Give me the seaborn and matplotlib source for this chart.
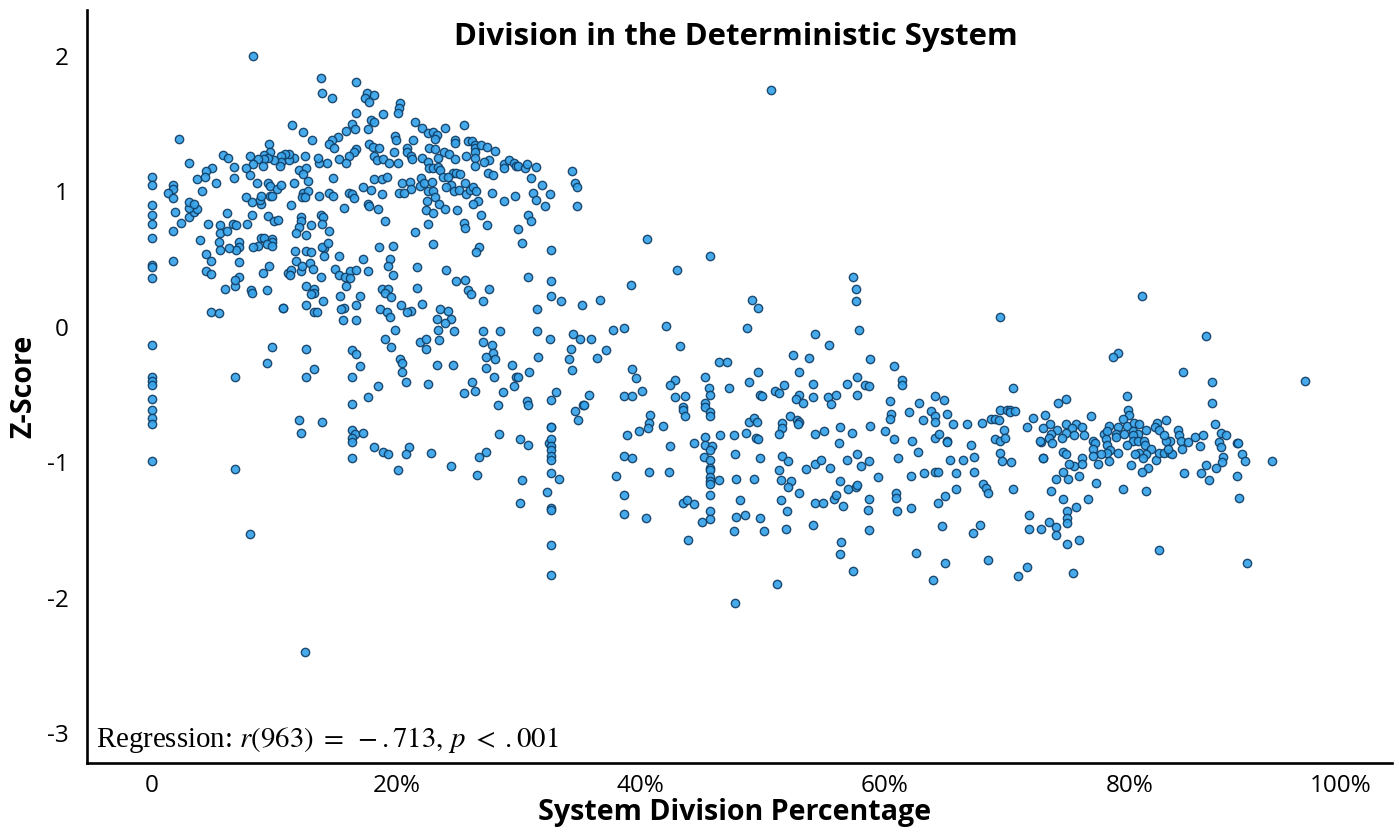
import pandas as pd
import matplotlib
matplotlib.use("Agg")
import matplotlib.pyplot as plt
import seaborn as sns

# (division %, z-score), grouped by region
zero_division = [(0, 1.11), (0, 1.05), (0, 0.90), (0, 0.83), (0, 0.76), (0, 0.66), (0, 0.46), (0, 0.44), (0, 0.36),
    (0, -0.13), (0, -0.37), (0, -0.40), (0, -0.43), (0, -0.53), (0, -0.61), (0, -0.67), (0, -0.72), (0, -0.99)]

upper_left = [(8.3, 2.00), (13.8, 1.84), (16.7, 1.81), (13.9, 1.73), (14.7, 1.69), (16.7, 1.58), (16.4, 1.50), (16.6, 1.46),
    (15.9, 1.45), (11.5, 1.49), (12.4, 1.44), (13.1, 1.38), (15.2, 1.40), (14.7, 1.38), (14.5, 1.35), (14.9, 1.32),
    (2.2, 1.39), (16.7, 1.31), (16.5, 1.29), (16.1, 1.26), (15.3, 1.24), (15.9, 1.21), (14.3, 1.21), (13.7, 1.21),
    (13.6, 1.25), (12.5, 1.26), (11.6, 1.25), (11.2, 1.23), (11.2, 1.28), (10.9, 1.28), (10.6, 1.26), (10.6, 1.22),
    (10.5, 1.19), (10.0, 1.23), (9.6, 1.35), (9.7, 1.29), (9.2, 1.27), (9.5, 1.25), (9.2, 1.24), (8.7, 1.24),
    (8.0, 1.26), (8.3, 1.20), (9.1, 1.19), (5.8, 1.27), (6.2, 1.25), (3.0, 1.21), (6.7, 1.18), (7.7, 1.17),
    (4.9, 1.17), (4.4, 1.15), (3.7, 1.09), (4.3, 1.11), (5.2, 1.06), (6.7, 1.10), (8.0, 1.12), (8.6, 1.06),
    (9.5, 1.06), (9.7, 1.04), (10.2, 1.02), (10.6, 1.05), (11.6, 1.06), (12.8, 1.08), (12.0, 1.16), (12.6, 1.17),
    (12.4, 1.13), (14.8, 1.10), (1.7, 1.05), (1.7, 1.02), (1.3, 0.99), (1.7, 0.95), (1.9, 0.85), (1.7, 0.71),
    (1.7, 0.49), (2.4, 0.77), (3.0, 0.81), (3.4, 0.85), (3.7, 0.87), (3.0, 0.88), (3.0, 0.92), (3.4, 0.91),
    (4.1, 1.00), (7.7, 0.96), (8.2, 0.92), (8.9, 0.91), (8.8, 0.94), (8.9, 0.97), (9.7, 0.97), (9.8, 0.97),
    (11.4, 0.90), (12.4, 0.99), (12.8, 1.00), (12.3, 0.96), (12.5, 0.96), (13.7, 0.97), (14.5, 0.99), (14.8, 0.97),
    (15.7, 0.88), (16.1, 0.99), (16.4, 0.98), (16.5, 0.95), (6.1, 0.84), (8.2, 0.83), (9.5, 0.82), (10.0, 0.78),
    (10.3, 0.79), (12.2, 0.81), (12.2, 0.78), (12.0, 0.74), (11.8, 0.69), (12.6, 0.68), (13.0, 0.75), (13.8, 0.83),
    (14.0, 0.81), (13.9, 0.76), (14.5, 0.71), (7.8, 0.76), (6.6, 0.76), (6.9, 0.75), (4.6, 0.76), (5.6, 0.75),
    (5.6, 0.69), (6.1, 0.71), (3.9, 0.64), (5.5, 0.63), (7.1, 0.63), (8.9, 0.66), (9.2, 0.66), (9.8, 0.65),
    (9.8, 0.63), (9.4, 0.61), (9.8, 0.60), (8.7, 0.60), (8.3, 0.59), (7.1, 0.59), (6.9, 0.57), (6.3, 0.58),
    (5.6, 0.57), (4.4, 0.54), (4.8, 0.49), (7.1, 0.48), (9.6, 0.45), (9.1, 0.40), (11.1, 0.40), (11.4, 0.42),
    (11.3, 0.38), (12.2, 0.41), (11.8, 0.49), (12.3, 0.45), (12.9, 0.47), (13.2, 0.43), (11.7, 0.56), (12.6, 0.56),
    (13.0, 0.55), (14.1, 0.58), (13.9, 0.59), (14.4, 0.62), (14.1, 0.52), (15.3, 0.52), (15.0, 0.43), (15.3, 0.38),
    (16.2, 0.41), (16.7, 0.42), (15.8, 0.37), (16.2, 0.36), (4.4, 0.41), (4.8, 0.39), (7.1, 0.37), (13.8, 0.37)]

upper_mid = [(17.6, 1.73), (18.2, 1.71), (17.4, 1.69), (17.8, 1.66), (18.9, 1.57), (20.3, 1.65), (20.2, 1.62), (20.1, 1.58),
    (21.5, 1.51), (22.1, 1.47), (22.6, 1.43), (23.0, 1.44), (23.3, 1.42), (23.2, 1.39), (24.0, 1.47), (25.5, 1.49),
    (17.9, 1.53), (18.2, 1.51), (17.7, 1.46), (19.9, 1.41), (20.0, 1.38), (21.4, 1.38), (17.8, 1.35), (18.1, 1.33),
    (18.6, 1.32), (19.8, 1.29), (20.9, 1.32), (20.9, 1.29), (21.2, 1.26), (21.3, 1.24), (22.7, 1.32), (23.2, 1.31),
    (23.9, 1.29), (24.3, 1.28), (23.4, 1.25), (24.8, 1.24), (24.8, 1.38), (24.8, 1.36), (25.9, 1.37), (26.2, 1.37),
    (26.4, 1.34), (26.4, 1.32), (26.9, 1.34), (27.4, 1.33), (28.1, 1.30), (25.7, 1.26), (26.4, 1.29), (26.4, 1.25),
    (27.6, 1.23), (27.2, 1.22), (26.4, 1.19), (28.8, 1.20), (29.2, 1.23), (28.8, 1.17), (29.6, 1.21), (29.8, 1.19),
    (30.0, 1.19), (30.5, 1.17), (30.7, 1.20), (31.4, 1.18), (27.5, 1.14), (27.9, 1.12), (31.0, 1.10), (31.9, 1.05),
    (31.2, 0.99), (31.4, 0.94), (32.6, 0.98), (32.2, 0.89), (34.4, 1.15), (34.6, 1.06), (34.8, 1.03), (34.8, 0.89),
    (18.2, 1.26), (18.4, 1.23), (18.9, 1.24), (19.4, 1.21), (20.1, 1.21), (22.1, 1.25), (22.6, 1.22), (22.7, 1.17),
    (23.0, 1.17), (23.4, 1.18), (23.6, 1.16), (24.6, 1.14), (24.9, 1.14), (25.2, 1.13), (23.8, 1.11), (24.2, 1.11),
    (18.2, 1.09), (18.8, 1.09), (19.2, 1.11), (17.3, 1.03), (17.9, 1.01), (18.8, 0.98), (20.5, 1.06), (21.1, 1.07),
    (22.0, 1.10), (21.9, 1.04), (22.3, 1.06), (22.9, 1.07), (21.2, 1.02), (20.2, 0.99), (20.6, 0.99), (22.6, 1.00),
    (23.0, 1.00), (23.2, 0.96), (24.5, 1.05), (24.1, 1.03), (24.7, 1.00), (25.1, 1.01), (25.6, 1.06), (25.7, 0.98),
    (26.0, 1.01), (26.3, 1.03), (26.5, 1.00), (27.8, 0.99), (28.8, 0.93), (29.7, 0.97), (26.7, 0.93), (26.3, 0.91),
    (22.5, 0.93), (23.5, 0.91), (24.0, 0.87), (22.4, 0.86), (23.0, 0.84), (25.0, 0.86), (26.9, 0.83), (30.8, 0.83),
    (31.0, 0.78), (17.7, 0.91), (17.8, 0.89), (18.5, 0.87), (19.1, 0.78), (22.6, 0.76), (21.5, 0.70), (25.5, 0.77),
    (25.6, 0.73), (27.4, 0.75), (30.0, 0.72), (18.6, 0.59), (19.7, 0.60), (23.0, 0.61), (26.8, 0.59), (26.5, 0.55),
    (30.3, 0.62), (32.7, 0.57), (17.3, 0.50), (19.5, 0.50), (19.3, 0.45), (17.7, 0.41), (19.7, 0.38), (21.7, 0.44),
    (24.1, 0.42), (24.9, 0.34), (25.6, 0.35), (30.8, 0.37), (32.7, 0.34), (21.7, 0.29), (25.9, 0.27), (26.1, 0.24),
    (27.6, 0.28), (32.7, 0.23), (18.8, 0.28), (19.3, 0.28), (19.1, 0.25), (19.6, 0.22), (17.0, 0.23)]

lower_left = [(6.0, 0.28), (6.8, 0.30), (6.8, 0.35), (8.1, 0.27), (8.2, 0.25), (9.4, 0.27), (4.8, 0.11), (5.5, 0.10),
    (10.7, 0.14), (10.7, 0.14), (12.6, 0.30), (13.3, 0.28), (13.3, 0.25), (13.0, 0.24), (14.0, 0.19), (12.6, 0.16),
    (13.3, 0.11), (13.5, 0.11), (15.4, 0.23), (15.9, 0.30), (16.7, 0.16), (15.7, 0.14), (15.5, 0.13), (15.6, 0.05),
    (16.7, 0.05), (9.8, -0.15), (12.6, -0.16), (16.4, -0.17), (16.7, -0.20), (9.4, -0.27), (13.3, -0.31), (17.0, -0.29),
    (6.8, -0.37), (12.6, -0.37), (16.4, -0.37), (16.4, -0.57), (12.0, -0.69), (13.9, -0.70), (12.2, -0.78),
    (16.4, -0.76), (16.6, -0.79), (17.3, -0.78), (16.4, -0.82), (16.4, -0.85), (16.4, -0.97), (6.8, -1.05),
    (8.0, -1.53), (12.5, -2.40)]

lower_mid = [(20.4, 0.16), (22.1, 0.17), (21.2, 0.12), (20.9, 0.11), (18.7, 0.13), (19.2, 0.11), (19.5, 0.07), (23.6, 0.13),
    (24.2, 0.12), (24.5, 0.06), (23.3, 0.06), (24.0, 0.03), (23.4, -0.02), (24.7, -0.03), (19.9, -0.02), (19.1, -0.09),
    (19.6, -0.15), (21.9, -0.11), (22.4, -0.09), (22.4, -0.16), (23.5, -0.10), (27.1, 0.19), (31.5, 0.13), (35.2, 0.16),
    (33.5, 0.19), (31.5, -0.03), (27.1, -0.03), (28.5, -0.03), (27.1, -0.11), (27.8, -0.13), (27.9, -0.19), (27.3, -0.22),
    (28.1, -0.24), (27.3, -0.30), (29.5, -0.28), (31.6, -0.22), (32.6, -0.09), (34.5, -0.05), (35.0, -0.09), (35.9, -0.09),
    (34.3, -0.16), (34.1, -0.24), (36.4, -0.23), (34.4, -0.32), (30.9, -0.33), (28.0, -0.37), (29.8, -0.37), (30.0, -0.37),
    (29.6, -0.44), (28.7, -0.48), (26.2, -0.41), (26.4, -0.47), (25.5, -0.49), (23.3, -0.28), (24.6, -0.28), (20.3, -0.24),
    (20.5, -0.27), (20.5, -0.33), (20.8, -0.41), (22.6, -0.42), (18.5, -0.44), (17.7, -0.52), (33.1, -0.48), (32.7, -0.54),
    (35.8, -0.50), (35.3, -0.58), (35.4, -0.58), (34.6, -0.62), (34.9, -0.69), (30.7, -0.55), (30.8, -0.58), (28.3, -0.58),
    (32.7, -0.74), (32.7, -0.74), (28.4, -0.79), (30.1, -0.83), (30.8, -0.87), (32.5, -0.86), (32.7, -0.83), (32.7, -0.88),
    (32.7, -0.91), (32.7, -0.95), (32.7, -0.98), (18.2, -0.89), (18.9, -0.92), (19.3, -0.94), (21.0, -0.89), (20.8, -0.94),
    (22.8, -0.93), (27.3, -0.92), (26.8, -0.96), (20.1, -1.06), (24.5, -1.03), (26.6, -1.09), (30.3, -1.13), (32.7, -1.08),
    (33.3, -1.12), (32.3, -1.22), (30.1, -1.30), (32.7, -1.34), (32.7, -1.35), (32.7, -1.61), (32.7, -1.83), (36.7, 0.20)]

centre = [(37.7, -0.02), (38.6, -0.01), (42.1, 0.01), (48.7, -0.01), (54.3, -0.05), (55.4, -0.13), (43.2, -0.14), (37.2, -0.17),
    (52.5, -0.21), (53.8, -0.23), (46.4, -0.26), (47.1, -0.26), (39.3, -0.31), (39.6, -0.38), (49.6, -0.33), (53.0, -0.33),
    (42.8, -0.39), (42.4, -0.43), (48.9, -0.41), (45.3, -0.37), (54.1, -0.42), (51.7, -0.43), (45.6, -0.45), (47.2, -0.45),
    (40.1, -0.47), (38.6, -0.51), (39.3, -0.51), (42.8, -0.52), (43.6, -0.51), (45.7, -0.50), (49.8, -0.50), (49.9, -0.51),
    (51.0, -0.47), (51.3, -0.49), (53.0, -0.50), (52.7, -0.53), (53.3, -0.56), (54.1, -0.52), (55.3, -0.52), (55.6, -0.57),
    (56.0, -0.50), (45.3, -0.56), (45.3, -0.59), (45.7, -0.63), (45.7, -0.66), (43.5, -0.59), (43.5, -0.61), (43.6, -0.66),
    (40.8, -0.65), (40.7, -0.71), (40.6, -0.75), (39.9, -0.77), (41.8, -0.73), (38.9, -0.80), (42.4, -0.88), (44.4, -0.86),
    (45.3, -0.81), (46.5, -0.80), (47.6, -0.80), (48.6, -0.78), (49.4, -0.82), (49.6, -0.83), (48.9, -0.70), (49.3, -0.67),
    (49.5, -0.70), (51.6, -0.71), (52.2, -0.66), (52.8, -0.69), (53.0, -0.70), (52.9, -0.72), (51.6, -0.75), (51.3, -0.79),
    (54.3, -0.79), (55.0, -0.77), (56.3, -0.74), (56.2, -0.86), (45.3, -0.87), (45.8, -0.88), (45.7, -0.91), (45.2, -0.96),
    (45.7, -0.98), (45.7, -1.04), (45.7, -1.06), (45.7, -1.11), (45.7, -1.14), (45.7, -1.16), (46.4, -1.13), (47.8, -1.12),
    (49.3, -1.12), (47.7, -0.94), (49.8, -0.97), (51.6, -0.95), (52.1, -0.99), (54.3, -1.01), (54.8, -0.98), (55.5, -1.04),
    (53.5, -1.05), (51.3, -1.06), (51.5, -1.13), (52.3, -1.14), (52.1, -1.18), (53.0, -1.23), (56.3, -1.14), (38.6, -0.95),
    (39.3, -0.97), (38.0, -1.10), (40.7, -1.07), (42.3, -1.07), (38.6, -1.24), (38.6, -1.38), (40.4, -1.41), (43.5, -1.30),
    (43.8, -1.28), (44.4, -1.31), (45.7, -1.24), (45.7, -1.36), (45.7, -1.42), (45.0, -1.44), (48.1, -1.28), (47.8, -1.40),
    (48.5, -1.39), (49.8, -1.41), (47.6, -1.51), (50.1, -1.51), (51.5, -1.28), (52.0, -1.36), (51.9, -1.49), (54.1, -1.46),
    (54.3, -1.30), (54.9, -1.30), (55.8, -1.27), (56.0, -1.24), (43.9, -1.57), (56.4, -1.59), (56.3, -1.68), (47.7, -2.04),
    (51.2, -1.90), (50.7, 1.75), (49.1, 0.20), (49.6, 0.14), (40.5, 0.65), (43.0, 0.42), (45.7, 0.52), (39.2, 0.31)]

right_mid = [(58.8, -0.24), (60.7, -0.29), (61.4, -0.39), (61.4, -0.43), (57.7, -0.37), (56.9, -0.42), (58.4, -0.43), (58.7, -0.44),
    (57.7, -0.50), (60.4, -0.55), (62.8, -0.56), (64.1, -0.51), (64.8, -0.54), (70.5, -0.45), (62.0, -0.63), (60.5, -0.64),
    (60.4, -0.68), (63.8, -0.62), (64.1, -0.66), (64.1, -0.70), (63.1, -0.69), (65.1, -0.64), (65.6, -0.72), (66.7, -0.72),
    (67.9, -0.71), (68.7, -0.68), (69.0, -0.68), (69.3, -0.69), (69.4, -0.61), (70.0, -0.61), (70.2, -0.61), (70.2, -0.63),
    (70.6, -0.62), (72.1, -0.67), (73.1, -0.65), (71.6, -0.74), (69.7, -0.76), (69.0, -0.83), (69.4, -0.84), (69.8, -0.82),
    (69.4, -0.93), (69.6, -0.99), (70.3, -1.00), (72.9, -0.97), (70.5, -1.20), (57.3, -0.78), (58.8, -0.73), (60.0, -0.77),
    (60.7, -0.83), (62.2, -0.84), (62.7, -0.92), (64.1, -0.82), (64.4, -0.79), (65.1, -0.84), (65.1, -0.85), (67.0, -0.87),
    (61.1, -0.97), (65.3, -0.98), (66.4, -0.98), (67.3, -0.96), (56.9, -0.98), (57.7, -0.94), (58.0, -1.03), (58.7, -0.99),
    (59.4, -1.11), (62.1, -1.10), (63.2, -1.08), (64.1, -1.07), (64.3, -1.07), (65.8, -1.08), (67.3, -1.07), (57.0, -1.20),
    (57.6, -1.18), (57.7, -1.17), (56.6, -1.32), (58.7, -1.27), (58.6, -1.35), (60.9, -1.23), (60.9, -1.26), (61.0, -1.36),
    (62.1, -1.34), (65.8, -1.20), (64.9, -1.25), (64.3, -1.30), (68.0, -1.16), (68.3, -1.19), (68.4, -1.23), (71.8, -1.39),
    (71.8, -1.49), (72.8, -1.49), (73.4, -1.44), (58.7, -1.50), (64.7, -1.47), (67.8, -1.46), (67.2, -1.52), (62.5, -1.67),
    (64.9, -1.74), (68.4, -1.72), (71.6, -1.77), (70.9, -1.84), (57.4, -1.80), (63.9, -1.87), (57.4, 0.37), (57.6, 0.28),
    (57.6, 0.19), (57.9, -0.02), (69.4, 0.07)]

right_cluster = [(84.4, -0.33), (86.8, -0.41), (86.8, -0.56), (79.8, -0.51), (74.8, -0.53), (74.2, -0.56), (79.9, -0.61), (80.0, -0.65),
    (76.9, -0.66), (79.5, -0.68), (73.5, -0.72), (74.8, -0.72), (75.6, -0.72), (76.1, -0.74), (78.3, -0.73), (79.1, -0.74),
    (79.8, -0.73), (80.4, -0.71), (80.8, -0.72), (82.3, -0.71), (83.0, -0.69), (82.1, -0.74), (84.0, -0.76), (81.4, -0.76),
    (82.4, -0.76), (72.9, -0.75), (74.1, -0.76), (75.3, -0.75), (73.6, -0.79), (74.8, -0.78), (75.5, -0.80), (76.3, -0.80),
    (74.5, -0.82), (73.4, -0.82), (73.7, -0.86), (72.8, -0.85), (72.7, -0.84), (77.0, -0.84), (77.2, -0.86), (77.9, -0.79),
    (78.2, -0.77), (78.1, -0.83), (78.2, -0.87), (77.0, -0.90), (78.4, -0.91), (78.2, -0.93), (77.7, -0.94), (77.0, -0.95),
    (79.1, -0.93), (78.9, -0.79), (78.9, -0.81), (79.6, -0.79), (80.3, -0.77), (80.7, -0.79), (80.3, -0.80), (80.3, -0.84),
    (80.7, -0.84), (79.8, -0.87), (81.2, -0.84), (81.3, -0.87), (81.8, -0.90), (81.4, -0.94), (80.8, -0.93), (80.5, -0.94),
    (81.1, -0.97), (82.2, -0.98), (82.4, -0.93), (82.8, -0.93), (83.3, -0.93), (83.5, -0.94), (83.2, -0.90), (83.3, -0.84),
    (83.0, -0.84), (82.8, -0.80), (84.1, -0.80), (84.2, -0.84), (84.3, -0.90), (84.8, -0.85), (85.4, -0.81), (86.0, -0.80),
    (85.8, -0.88), (87.0, -0.72), (87.5, -0.78), (87.9, -0.80), (87.3, -0.85), (87.5, -0.89), (88.8, -0.86), (88.9, -0.86),
    (89.2, -0.94), (89.5, -0.99), (87.7, -0.96), (87.6, -1.00), (87.1, -1.04), (88.8, -1.10), (89.0, -1.26), (91.7, -0.99),
    (86.3, -1.02), (85.9, -1.08), (86.5, -1.13), (84.5, -1.08), (81.5, -1.04), (81.0, -1.07), (80.1, -1.02), (81.4, -1.21),
    (79.5, -1.20), (77.3, -1.15), (77.4, -1.01), (78.3, -0.99), (76.1, -0.97), (76.1, -1.01), (75.5, -1.03), (75.1, -1.01),
    (74.6, -0.92), (74.8, -0.94), (72.9, -0.97), (74.6, -1.07), (74.0, -1.12), (75.0, -1.12), (75.9, -1.10), (73.6, -1.21),
    (74.6, -1.27), (76.6, -1.27), (75.6, -1.33), (74.9, -1.36), (74.9, -1.41), (74.9, -1.45), (74.0, -1.48), (74.0, -1.54),
    (74.9, -1.60), (75.9, -1.57), (75.4, -1.82), (82.4, -1.65), (89.6, -1.74), (94.4, -0.40), (81.0, 0.23), (86.3, -0.07),
    (79.1, -0.19), (78.7, -0.22)]

x_tick_pos = [0, 20, 40, 60, 80, 97.3]
x_tick_labels = ["0", "20%", "40%", "60%", "80%", "100%"]
y_ticks = [2, 1, 0, -1, -2, -3]

points = zero_division + upper_left + upper_mid + lower_left + lower_mid + centre + right_mid + right_cluster
df = pd.DataFrame(points, columns=["division", "z_score"])

sns.set_theme(style="white")
plt.rcParams["font.family"] = ["Open Sans", "DejaVu Sans"]
plt.rcParams["mathtext.fontset"] = "stix"

fig = plt.figure(figsize=(13.99, 8.38), dpi=100)
ax = fig.add_axes([87 / 1399, 75 / 838, 1305 / 1399, 753 / 838])

sns.scatterplot(data=df, x="division", y="z_score", ax=ax, s=36, color="#36a3ea",
                edgecolor="#123f66", linewidth=1.0, alpha=0.92, clip_on=False)

ax.set_xlim(-5.32, 101.5)
ax.set_ylim(-3.22, 2.34)
sns.despine(ax=ax)
for side in ["left", "bottom"]:
    ax.spines[side].set_color("black")
    ax.spines[side].set_linewidth(1.9)

ax.set_xticks(x_tick_pos)
ax.set_xticklabels(x_tick_labels, fontsize=17.5, color="black")
ax.set_yticks(y_ticks)
ax.set_yticklabels([str(v) for v in y_ticks], fontsize=17.5, color="black")
ax.tick_params(axis="x", length=0, pad=8)
ax.tick_params(axis="y", length=0, pad=13)

ax.set_xlabel("System Division Percentage", fontsize=20.6, fontweight="bold", color="black", labelpad=3)
ax.xaxis.set_label_coords(0.496, -0.0465)
ax.set_ylabel("Z-Score", fontsize=20.6, fontweight="bold", color="black")
ax.yaxis.set_label_coords(-0.037, 0.50)

fig.text(736 / 1399, 1 - 37 / 838, "Division in the Deterministic System", ha="center", va="center",
         fontsize=22.4, fontweight="bold", color="black")
ax.text(-4.6, -3.05, r"Regression: $r(963)\;=\;-{.}713,\,p\;<\;{.}001$", fontsize=20.8, color="black",
        family="Liberation Serif", va="center")

fig.savefig("out.png", dpi=100)
